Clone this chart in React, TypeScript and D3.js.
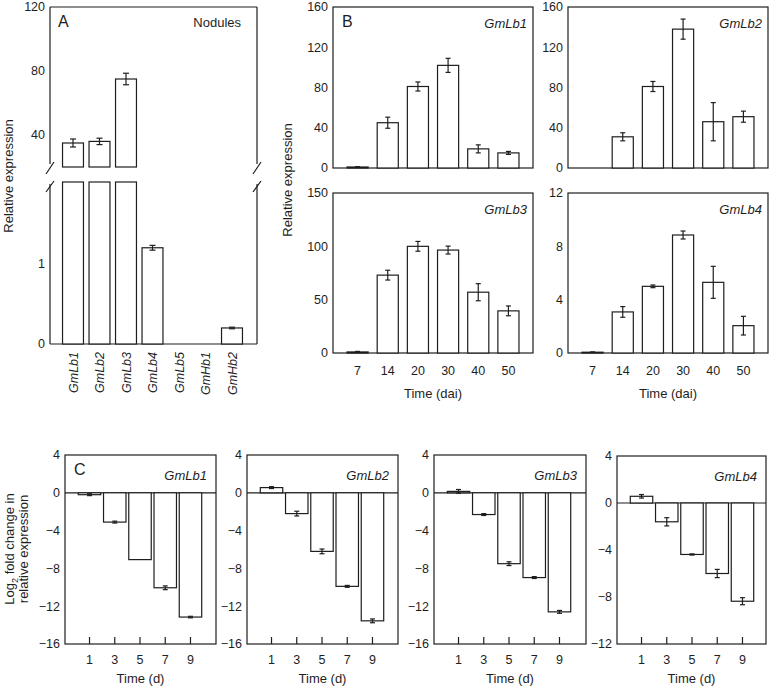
import React from "react";
import * as d3 from "d3";

// ---------- Panel A data ----------
const aGenes = ["GmLb1", "GmLb2", "GmLb3", "GmLb4", "GmLb5", "GmHb1", "GmHb2"];
const aValues = [35, 36, 75, 1.2, 0, 0, 0.2];
const aErrors = [2.5, 2, 3.6, 0.03, 0, 0, 0.01];
const aUpperTicks = [40, 80, 120];
const aLowerTicks = [0, 1];

// ---------- Panel B data ----------
const bTimes = ["7", "14", "20", "30", "40", "50"];
const bLb1 = [1, 45, 81, 102, 19, 15];
const bLb1Err = [0.3, 5.5, 4.5, 7, 4, 1.5];
const bLb2 = [0, 31, 81, 138, 46, 51];
const bLb2Err = [0, 4, 5, 10, 19, 5.5];
const bLb3 = [1, 73, 100, 96.5, 57, 39.5];
const bLb3Err = [0.5, 4.6, 4.6, 3.7, 8, 4.6];
const bLb4 = [0.06, 3.08, 5.0, 8.85, 5.3, 2.05];
const bLb4Err = [0.02, 0.4, 0.1, 0.3, 1.2, 0.7];
const bTicks160 = [0, 40, 80, 120, 160];
const bTicks150 = [0, 50, 100, 150];
const bTicks12 = [0, 4, 8, 12];

// ---------- Panel C data ----------
const cTimes = ["1", "3", "5", "7", "9"];
const cLb1 = [-0.2, -3.1, -7.07, -10.05, -13.15];
const cLb1Err = [0.1, 0.1, 0, 0.2, 0.08];
const cLb2 = [0.55, -2.2, -6.2, -9.9, -13.55];
const cLb2Err = [0.1, 0.25, 0.25, 0.1, 0.2];
const cLb3 = [0.15, -2.3, -7.5, -8.97, -12.6];
const cLb3Err = [0.2, 0.1, 0.2, 0.1, 0.15];
const cLb4 = [0.57, -1.6, -4.38, -6.0, -8.36];
const cLb4Err = [0.15, 0.35, 0.05, 0.35, 0.3];
const cTicks16 = [4, 0, -4, -8, -12, -16];
const cTicks12 = [4, 0, -4, -8, -12];

const INK = "#1e1e1e";
const SW = 1.2;
const FONT = "'Liberation Sans', Arial, Helvetica, sans-serif";
const fmt = d3.format("");

function ErrBar({ x, yLo, yHi, cap }: { x: number; yLo: number; yHi: number; cap: number }) {
  return (
    <g stroke={INK} strokeWidth={SW} fill="none">
      <line x1={x} x2={x} y1={yLo} y2={yHi} />
      <line x1={x - cap / 2} x2={x + cap / 2} y1={yLo} y2={yLo} />
      <line x1={x - cap / 2} x2={x + cap / 2} y1={yHi} y2={yHi} />
    </g>
  );
}

type SubProps = {
  left: number; right: number; top: number; bottom: number;
  domain: [number, number]; ticks: number[];
  cats: string[]; values: number[]; errors: number[];
  gene: string; letter?: string; showX: boolean; xTitle?: string;
  inner: [number, number]; padIn: number; padOut: number;
  xTicksInward: boolean; zeroLine: boolean; geneInset: number; geneBase: number;
  labelY: number; titleY: number;
};

function SubPlot(p: SubProps) {
  const y = d3.scaleLinear().domain(p.domain).range([p.bottom, p.top]);
  const x = d3.scaleBand<string>().domain(p.cats)
    .range([p.left + p.inner[0], p.left + p.inner[1]])
    .paddingInner(p.padIn).paddingOuter(p.padOut);
  const bw = x.bandwidth();
  const y0 = y(Math.max(0, p.domain[0]));
  return (
    <g>
      <rect x={p.left} y={p.top} width={p.right - p.left} height={p.bottom - p.top}
        fill="none" stroke={INK} strokeWidth={SW} />
      {p.zeroLine && (
        <line x1={p.left} x2={p.right} y1={y(0)} y2={y(0)} stroke={INK} strokeWidth={SW} />
      )}
      {p.values.map((v, i) => {
        const xs = x(p.cats[i])!;
        const yv = y(v);
        return (
          <rect key={"b" + i} x={xs} width={bw} y={Math.min(yv, y0)}
            height={Math.abs(yv - y0)} fill="#fff" stroke={INK} strokeWidth={SW} />
        );
      })}
      {p.values.map((v, i) => {
        const e = p.errors[i];
        if (!e) return null;
        const cx = x(p.cats[i])! + bw / 2;
        return <ErrBar key={"e" + i} x={cx} yLo={y(v - e)} yHi={y(v + e)} cap={5} />;
      })}
      {p.ticks.map((t) => (
        <text key={"t" + t} x={p.left - 5} y={y(t)} dy="0.35em" textAnchor="end"
          fontSize={12.5} fill={INK}>{fmt(t)}</text>
      ))}
      {p.xTicksInward && p.cats.map((c) => {
        const cx = x(c)! + bw / 2;
        return <line key={"xt" + c} x1={cx} x2={cx} y1={p.bottom} y2={p.bottom - 7}
          stroke={INK} strokeWidth={SW} />;
      })}
      {p.showX && p.cats.map((c) => (
        <text key={"xl" + c} x={x(c)! + bw / 2} y={p.labelY} textAnchor="middle"
          fontSize={12.5} fill={INK}>{c}</text>
      ))}
      {p.xTitle && (
        <text x={(p.left + p.right) / 2} y={p.titleY} textAnchor="middle" fontSize={13}
          fill={INK}>{p.xTitle}</text>
      )}
      {p.letter && (
        <text x={p.left + 9} y={p.top + 20} fontSize={16} fill={INK}>{p.letter}</text>
      )}
      <text x={p.right - p.geneInset} y={p.top + p.geneBase} textAnchor="end" fontSize={13}
        fontStyle="italic" fill={INK}>{p.gene}</text>
    </g>
  );
}

function PanelA() {
  const L = 50, R = 257, T = 7;
  const upper = d3.scaleLinear().domain([20, 120]).range([167, 7]);
  const lower = d3.scaleLinear().domain([0, 2.02]).range([344, 182]);
  const x = d3.scaleBand<string>().domain(aGenes).range([59.75, 245.25])
    .paddingInner(0.21).paddingOuter(0.105);
  const bw = x.bandwidth();
  const breakMarks = (ax: number) => (
    <g stroke={INK} strokeWidth={SW}>
      <line x1={ax} x2={ax} y1={T} y2={164} />
      <line x1={ax - 4} x2={ax + 4} y1={174} y2={162} />
      <line x1={ax - 4} x2={ax + 4} y1={192} y2={181} />
      <line x1={ax} x2={ax} y1={184} y2={344} />
    </g>
  );
  return (
    <g>
      <line x1={L} x2={R} y1={T} y2={T} stroke={INK} strokeWidth={SW} />
      <line x1={L} x2={R} y1={344} y2={344} stroke={INK} strokeWidth={SW} />
      {breakMarks(L)}
      {breakMarks(R)}
      {aValues.map((v, i) => {
        const xs = x(aGenes[i])!;
        const cx = xs + bw / 2;
        const els: React.ReactNode[] = [];
        if (v > 0) {
          const top = v > 2 ? lower(2.02) : lower(v);
          els.push(<rect key="lo" x={xs} width={bw} y={top} height={344 - top}
            fill="#fff" stroke={INK} strokeWidth={SW} />);
        }
        if (v > 20) {
          els.push(<rect key="up" x={xs} width={bw} y={upper(v)} height={167 - upper(v)}
            fill="#fff" stroke={INK} strokeWidth={SW} />);
          els.push(<ErrBar key="eu" x={cx} yLo={upper(v - aErrors[i])} yHi={upper(v + aErrors[i])} cap={6} />);
        } else if (v > 0 && aErrors[i]) {
          els.push(<ErrBar key="el" x={cx} yLo={lower(v - aErrors[i])} yHi={lower(v + aErrors[i])} cap={6} />);
        }
        return <g key={i}>{els}</g>;
      })}
      {aUpperTicks.map((t) => (
        <text key={"u" + t} x={L - 5} y={upper(t)} dy="0.35em" textAnchor="end" fontSize={12.5}
          fill={INK}>{fmt(t)}</text>
      ))}
      {aLowerTicks.map((t) => (
        <text key={"l" + t} x={L - 5} y={lower(t)} dy="0.35em" textAnchor="end" fontSize={12.5}
          fill={INK}>{fmt(t)}</text>
      ))}
      {aGenes.map((g) => (
        <text key={g} transform={`translate(${x(g)! + bw / 2 + 4.5},352) rotate(-90)`}
          textAnchor="end" fontSize={12.5} fontStyle="italic" fill={INK}>{g}</text>
      ))}
      <text x={58} y={27} fontSize={16} fill={INK}>A</text>
      <text x={241} y={27} textAnchor="end" fontSize={13} fill={INK}>Nodules</text>
      <text transform="translate(13,176) rotate(-90)" textAnchor="middle" fontSize={13}
        fill={INK}>Relative expression</text>
    </g>
  );
}

export default function App() {
  const bCommon = {
    cats: bTimes, inner: [9.5, 190.5] as [number, number], padIn: 0.3, padOut: 0.15,
    xTicksInward: false, zeroLine: false, geneInset: 6, geneBase: 21,
    labelY: 375, titleY: 398,
  };
  const cCommon = {
    cats: cTimes, inner: [11.9, 138.1] as [number, number], padIn: 0.11, padOut: 0.055,
    xTicksInward: true, zeroLine: true, geneInset: 9, geneBase: 25,
    labelY: 664, titleY: 683, showX: true, xTitle: "Time (d)",
  };
  return (
    <svg width={771} height={686} fontFamily={FONT}
      style={{ position: "absolute", left: 0, top: 0, display: "block", background: "#fff" }}>
      <rect width={771} height={686} fill="#fff" />
      <PanelA />

      <SubPlot {...bCommon} left={333} right={533} top={7} bottom={168} domain={[0, 160]}
        ticks={bTicks160} values={bLb1} errors={bLb1Err} gene="GmLb1" letter="B" showX={false} />
      <SubPlot {...bCommon} left={568} right={768} top={7} bottom={168} domain={[0, 160]}
        ticks={bTicks160} values={bLb2} errors={bLb2Err} gene="GmLb2" showX={false} />
      <SubPlot {...bCommon} left={333} right={533} top={193} bottom={353} domain={[0, 150]}
        ticks={bTicks150} values={bLb3} errors={bLb3Err} gene="GmLb3" showX={true}
        xTitle="Time (dai)" />
      <SubPlot {...bCommon} left={568} right={768} top={193} bottom={353} domain={[0, 12]}
        ticks={bTicks12} values={bLb4} errors={bLb4Err} gene="GmLb4" showX={true}
        xTitle="Time (dai)" />
      <text transform="translate(292,180) rotate(-90)" textAnchor="middle" fontSize={13}
        fill={INK}>Relative expression</text>

      <SubPlot {...cCommon} left={65} right={216} top={455} bottom={644} domain={[-16, 4]}
        ticks={cTicks16} values={cLb1} errors={cLb1Err} gene="GmLb1" letter="C" />
      <SubPlot {...cCommon} left={247} right={398} top={455} bottom={644} domain={[-16, 4]}
        ticks={cTicks16} values={cLb2} errors={cLb2Err} gene="GmLb2" />
      <SubPlot {...cCommon} left={434} right={586} top={455} bottom={644} domain={[-16, 4]}
        ticks={cTicks16} values={cLb3} errors={cLb3Err} gene="GmLb3" />
      <SubPlot {...cCommon} left={617} right={766} top={456} bottom={644} domain={[-12, 4]}
        ticks={cTicks12} values={cLb4} errors={cLb4Err} gene="GmLb4" />
      <text transform="translate(14,549) rotate(-90)" textAnchor="middle" fontSize={13} fill={INK}>
        Log<tspan fontSize={9} dy={4}>2</tspan><tspan dy={-4}> fold change in</tspan>
      </text>
      <text transform="translate(28,549) rotate(-90)" textAnchor="middle" fontSize={13}
        fill={INK}>relative expression</text>
    </svg>
  );
}
